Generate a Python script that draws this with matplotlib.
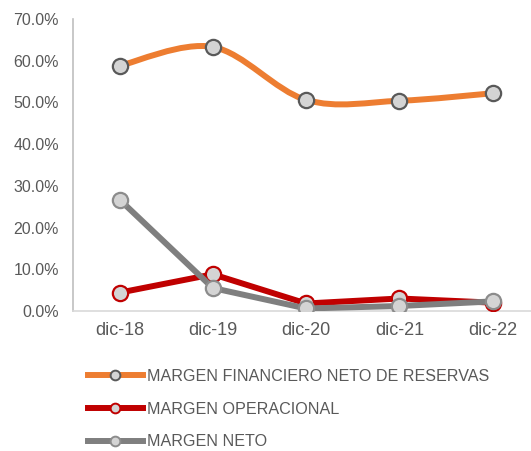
import matplotlib
matplotlib.use('Agg')
import matplotlib.pyplot as plt
from matplotlib.path import Path
from matplotlib.patches import PathPatch
from matplotlib.lines import Line2D
from matplotlib.ticker import PercentFormatter

plt.rcParams['font.family'] = ['Liberation Sans', 'DejaVu Sans']

categories = ['dic-18', 'dic-19', 'dic-20', 'dic-21', 'dic-22']
margen_financiero = [0.588, 0.633, 0.506, 0.504, 0.522]
margen_operacional = [0.044, 0.088, 0.018, 0.030, 0.020]
margen_neto = [0.267, 0.055, 0.006, 0.012, 0.023]

ORANGE = '#ED7D31'
RED = '#C00000'
GRAY = '#7F7F7F'
TEXT = '#595959'
FILL = '#d4d4d4'


def smooth_path(xs, ys):
    # Excel-style smoothed line: cubic bezier through the points
    n = len(xs)
    verts = [(xs[0], ys[0])]
    codes = [Path.MOVETO]
    for i in range(n - 1):
        p0 = max(i - 1, 0)
        p3 = min(i + 2, n - 1)
        c1 = (xs[i] + (xs[i + 1] - xs[p0]) / 6, ys[i] + (ys[i + 1] - ys[p0]) / 6)
        c2 = (xs[i + 1] - (xs[p3] - xs[i]) / 6, ys[i + 1] - (ys[p3] - ys[i]) / 6)
        verts += [c1, c2, (xs[i + 1], ys[i + 1])]
        codes += [Path.CURVE4] * 3
    return Path(verts, codes)


fig = plt.figure(figsize=(5.31, 4.51), dpi=100)
ax = fig.add_axes([73 / 531, 140 / 451, 458 / 531, 292 / 451])

x = list(range(len(categories)))

# orange smoothed line
ax.add_patch(PathPatch(smooth_path(x, margen_financiero), facecolor='none',
                       edgecolor=ORANGE, lw=4.3, capstyle='round', zorder=2))
ax.plot(x, margen_financiero, ls='none', marker='o', ms=11, mfc=FILL,
        mec=TEXT, mew=1.6, zorder=5)

ax.plot(x, margen_operacional, color=RED, lw=4.3, marker='o', ms=11, mfc=FILL,
        mec=RED, mew=1.6, solid_joinstyle='round', zorder=3)
ax.plot(x, margen_neto, color=GRAY, lw=4.3, marker='o', ms=11, mfc=FILL,
        mec='#8c8c8c', mew=1.6, solid_joinstyle='round', zorder=4)

ax.set_xlim(-0.5, 4.41)
ax.set_ylim(0, 0.70)
ax.set_yticks([i / 10 for i in range(8)])
ax.yaxis.set_major_formatter(PercentFormatter(1.0, decimals=1))
ax.set_xticks(x)
ax.set_xticklabels(categories)
ax.tick_params(axis='y', length=0, pad=10, labelsize=11.5, labelcolor=TEXT)
ax.tick_params(axis='x', length=0, pad=8, labelsize=13, labelcolor=TEXT)

for s in ['top', 'right']:
    ax.spines[s].set_visible(False)
ax.spines['left'].set_color('#bfbfbf')
ax.spines['left'].set_linewidth(1.2)
ax.spines['bottom'].set_color('#d9d9d9')
ax.spines['bottom'].set_linewidth(1.2)

handles = [
    Line2D([], [], color=ORANGE, lw=4.3, marker='o', ms=7, mfc=FILL, mec=TEXT, mew=1.4),
    Line2D([], [], color=RED, lw=4.3, marker='o', ms=7, mfc=FILL, mec=RED, mew=1.4),
    Line2D([], [], color=GRAY, lw=4.3, marker='o', ms=7, mfc=FILL, mec='#8c8c8c', mew=1.4),
]
labels = ['MARGEN FINANCIERO NETO DE RESERVAS', 'MARGEN OPERACIONAL', 'MARGEN NETO']
fig.legend(handles, labels, loc='upper left', bbox_to_anchor=(88 / 531, 1 - 369 / 451),
           frameon=False, fontsize=11.6, labelcolor=TEXT, handlelength=3.4,
           handletextpad=0.25, labelspacing=1.1, borderpad=0, borderaxespad=0)

fig.savefig('out.png', dpi=100)
